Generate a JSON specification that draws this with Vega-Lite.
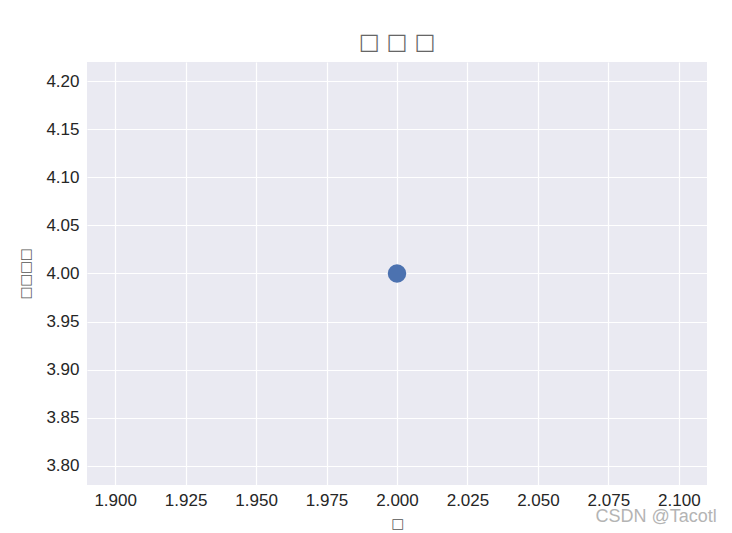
{
  "$schema": "https://vega.github.io/schema/vega-lite/v6.json",
  "autosize": "none",
  "width": 620,
  "height": 423,
  "padding": {"left": 87, "top": 62, "right": 25, "bottom": 48},
  "background": "white",
  "config": {
    "view": {"fill": "#EAEAF2", "stroke": null},
    "font": "Liberation Sans",
    "axis": {
      "grid": true, "gridColor": "white", "gridWidth": 1.2, "gridOpacity": 1,
      "domain": false, "ticks": false, "labelFont": "Liberation Sans", "labelFontSize": 17,
      "labelColor": "#262626", "titleFont": "DejaVu Sans", "titleFontSize": 13.5, "titleColor": "#555555", "titleFontWeight": "normal"
    }
  },
  "title": {"text": "□ □ □", "font": "DejaVu Sans", "fontSize": 22, "fontWeight": "normal", "color": "#666666", "offset": 8},
  "data": {"values": [{"x": 2.0, "y": 4.0}]},
  "layer": [
    {
      "mark": {"type": "circle", "size": 340, "opacity": 1, "color": "#4C72B0"},
      "encoding": {
        "x": {"field": "x", "type": "quantitative", "scale": {"domain": [1.89, 2.11], "nice": false, "zero": false},
          "axis": {"values": [1.9, 1.925, 1.95, 1.975, 2.0, 2.025, 2.05, 2.075, 2.1], "format": ".3f", "title": "□", "labelPadding": 7, "titlePadding": 8}},
        "y": {"field": "y", "type": "quantitative", "scale": {"domain": [3.78, 4.22], "nice": false, "zero": false},
          "axis": {"values": [3.8, 3.85, 3.9, 3.95, 4.0, 4.05, 4.1, 4.15, 4.2], "format": ".2f", "title": "□□□□", "labelPadding": 8, "titlePadding": 13}}
      }
    },
    {
      "mark": {"type": "text", "text": "CSDN @Tacotl", "fontSize": 18, "color": "#B4B4B4", "align": "right", "baseline": "middle", "clip": false, "font": "Liberation Sans"},
      "encoding": {
        "x": {"datum": 2.1135, "type": "quantitative"},
        "y": {"datum": 3.7465, "type": "quantitative"}
      }
    }
  ]
}
